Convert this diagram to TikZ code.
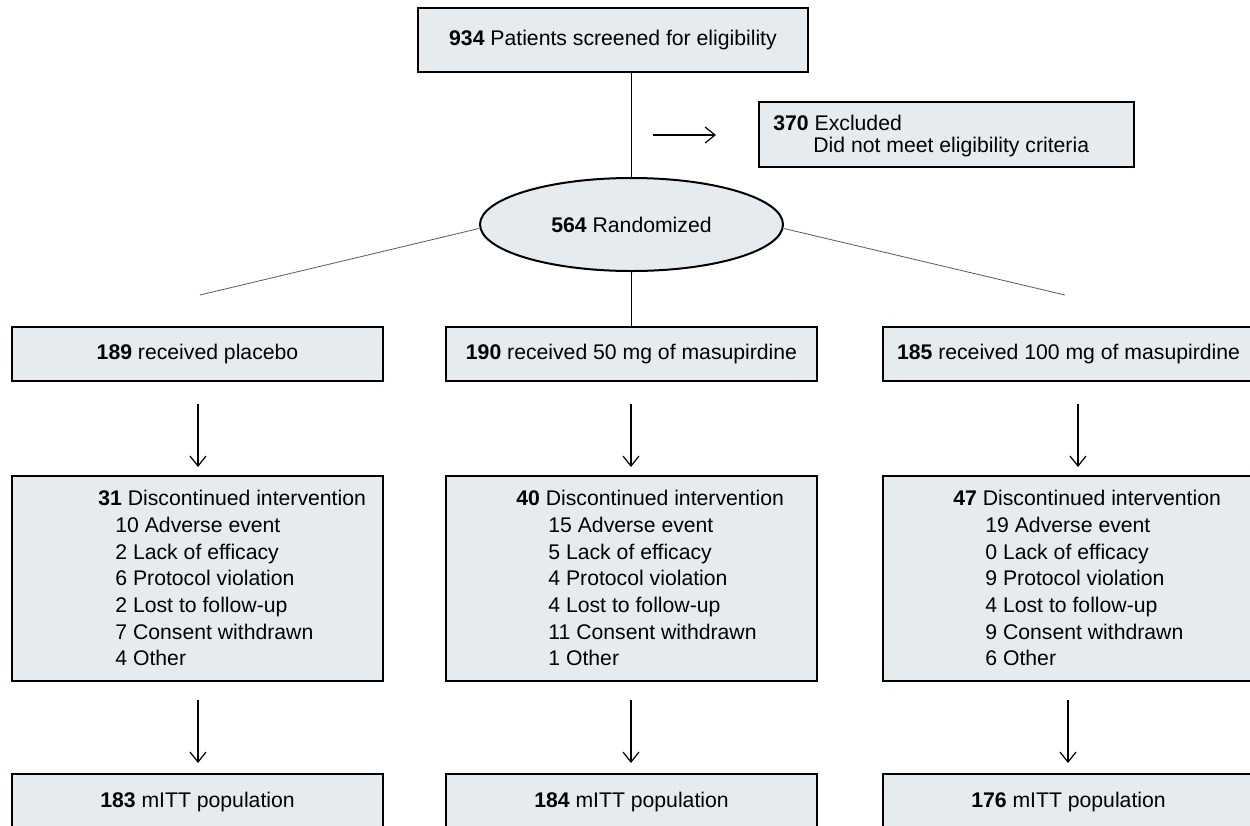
\documentclass[tikz,border=0pt]{standalone}
\usepackage{fontspec}
\setmainfont{Liberation Sans}
\usetikzlibrary{shapes.geometric,arrows.meta}
\definecolor{boxfill}{RGB}{229,235,239}
\begin{document}
\begin{tikzpicture}[x=0.5pt,y=-0.5pt,
  box/.style={draw=black, line width=1pt, fill=boxfill, inner sep=0pt, font=\fontsize{10.6}{11}\selectfont},
  rowbox/.style={box, minimum width=185.5pt, minimum height=27pt},
  discbox/.style={box, minimum width=185.5pt, minimum height=102.5pt},
  popbox/.style={box, minimum width=185.5pt, minimum height=28pt},
  txt/.style={inner sep=0pt, align=left, font=\fontsize{10.6}{13.35}\selectfont},
  conn/.style={line width=0.8pt},
  thinline/.style={line width=0.4pt, draw=black!65},
  arr/.style={line width=0.6pt, -{Straight Barb[length=5pt,width=8pt]}}]
\useasboundingbox (0,0) rectangle (1250,826);
\clip (0,0) rectangle (1250,826);

% top
\node[box, minimum width=195pt, minimum height=32pt] (top) at (613,40) {\textbf{934} Patients screened for eligibility};
\node[box, minimum width=187.5pt, minimum height=32.5pt] (excl) at (946.5,134.5) {};
\node[inner sep=0pt, align=left, font=\fontsize{10.6}{11}\selectfont, anchor=north west] (exclt) at (773,115) {\textbf{370} Excluded\\\hspace*{20pt}Did not meet eligibility criteria};
\coordinate (ea) at (653,135);
\coordinate (eb) at (716,135);
\draw[arr] (ea) -- (eb);

\node[box, ellipse, minimum width=151.5pt, minimum height=46.5pt] (rand) at (631.5,224.5) {\textbf{564} Randomized};
\draw[conn] (top.south -| rand.north) -- (rand.north);

% row 1
\node[rowbox] (b1) at (197.5,354) {\textbf{189} received placebo};
\node[rowbox] (b2) at (631.5,354) {\textbf{190} received 50 mg of masupirdine};
\node[rowbox] (b3) at (1068.5,354) {\textbf{185} received 100 mg of masupirdine};

\coordinate (l1) at (200,295);
\coordinate (r1) at (1065,295);
\draw[thinline] ([yshift=-2pt]rand.west) -- (l1);
\draw[thinline] ([yshift=-2pt]rand.east) -- (r1);
\draw[conn] (rand.south) -- (b2.north);

% row 2
\node[discbox] (d1) at (197.5,578.5) {};
\node[discbox] (d2) at (631.5,578.5) {};
\node[discbox] (d3) at (1068.5,578.5) {};

\node[txt, anchor=north west] (d1t) at (98,490) {\textbf{31} Discontinued intervention\\
\hspace*{8.5pt}10 Adverse event\\
\hspace*{8.5pt}2 Lack of efficacy\\
\hspace*{8.5pt}6 Protocol violation\\
\hspace*{8.5pt}2 Lost to follow-up\\
\hspace*{8.5pt}7 Consent withdrawn\\
\hspace*{8.5pt}4 Other};
\node[txt, anchor=north west] (d2t) at (516,490) {\textbf{40} Discontinued intervention\\
\hspace*{16pt}15 Adverse event\\
\hspace*{16pt}5 Lack of efficacy\\
\hspace*{16pt}4 Protocol violation\\
\hspace*{16pt}4 Lost to follow-up\\
\hspace*{16pt}11 Consent withdrawn\\
\hspace*{16pt}1 Other};
\node[txt, anchor=north west] (d3t) at (953,490) {\textbf{47} Discontinued intervention\\
\hspace*{16pt}19 Adverse event\\
\hspace*{16pt}0 Lack of efficacy\\
\hspace*{16pt}9 Protocol violation\\
\hspace*{16pt}4 Lost to follow-up\\
\hspace*{16pt}9 Consent withdrawn\\
\hspace*{16pt}6 Other};

% row 3
\node[popbox] (p1) at (197.5,802) {\textbf{183} mITT population};
\node[popbox] (p2) at (631.5,802) {\textbf{184} mITT population};
\node[popbox] (p3) at (1068.5,802) {\textbf{176} mITT population};

% arrows
\coordinate (a1s) at (198,404);  \coordinate (a1e) at (198,467);
\coordinate (a2s) at (631,404);  \coordinate (a2e) at (631,467);
\coordinate (a3s) at (1078,404); \coordinate (a3e) at (1078,467);
\coordinate (c1s) at (198,700);  \coordinate (c1e) at (198,763);
\coordinate (c2s) at (631,700);  \coordinate (c2e) at (631,763);
\coordinate (c3s) at (1068,700); \coordinate (c3e) at (1068,763);
\draw[arr] (a1s) -- (a1e);
\draw[arr] (a2s) -- (a2e);
\draw[arr] (a3s) -- (a3e);
\draw[arr] (c1s) -- (c1e);
\draw[arr] (c2s) -- (c2e);
\draw[arr] (c3s) -- (c3e);
\end{tikzpicture}
\end{document}
